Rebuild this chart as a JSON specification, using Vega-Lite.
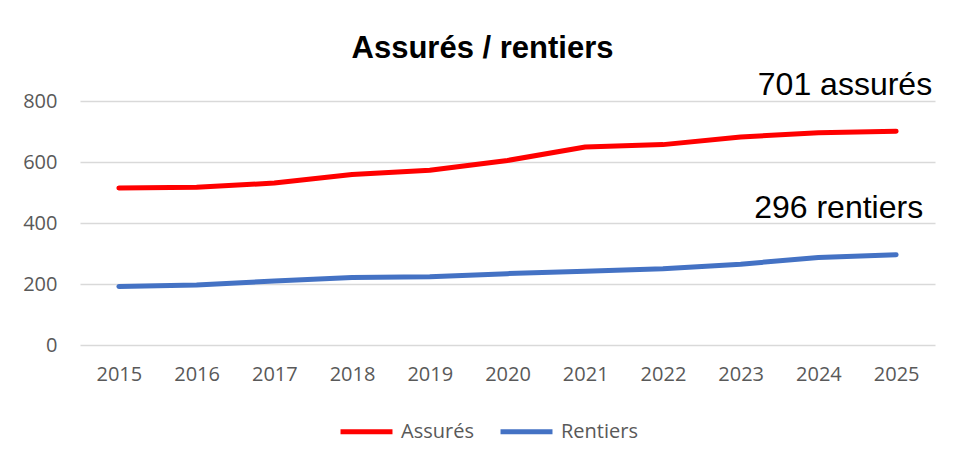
{
  "$schema": "https://vega.github.io/schema/vega-lite/v6.json",
  "autosize": "none",
  "width": 855,
  "height": 244,
  "padding": {"left": 80, "top": 101, "right": 25, "bottom": 121},
  "background": "white",
  "title": {
    "text": "Assurés / rentiers",
    "font": "Liberation Sans",
    "fontSize": 31,
    "fontWeight": "bold",
    "color": "#000000",
    "anchor": "middle",
    "frame": "group",
    "dx": -25,
    "offset": 4
  },
  "datasets": {
    "series": [
      {"year": "2015", "series": "Assurés", "value": 515},
      {"year": "2016", "series": "Assurés", "value": 517},
      {"year": "2017", "series": "Assurés", "value": 531},
      {"year": "2018", "series": "Assurés", "value": 559},
      {"year": "2019", "series": "Assurés", "value": 573},
      {"year": "2020", "series": "Assurés", "value": 605},
      {"year": "2021", "series": "Assurés", "value": 649},
      {"year": "2022", "series": "Assurés", "value": 657},
      {"year": "2023", "series": "Assurés", "value": 682},
      {"year": "2024", "series": "Assurés", "value": 696},
      {"year": "2025", "series": "Assurés", "value": 701},
      {"year": "2015", "series": "Rentiers", "value": 192},
      {"year": "2016", "series": "Rentiers", "value": 197},
      {"year": "2017", "series": "Rentiers", "value": 210},
      {"year": "2018", "series": "Rentiers", "value": 221},
      {"year": "2019", "series": "Rentiers", "value": 224},
      {"year": "2020", "series": "Rentiers", "value": 234},
      {"year": "2021", "series": "Rentiers", "value": 242},
      {"year": "2022", "series": "Rentiers", "value": 250},
      {"year": "2023", "series": "Rentiers", "value": 265},
      {"year": "2024", "series": "Rentiers", "value": 287},
      {"year": "2025", "series": "Rentiers", "value": 296}
    ],
    "notes": [
      {"year": "2025", "series": "Assurés", "value": 701, "label": "701 assurés"},
      {"year": "2025", "series": "Rentiers", "value": 296, "label": "296 rentiers"}
    ]
  },
  "encoding": {
    "x": {
      "field": "year",
      "type": "ordinal",
      "scale": {"type": "point", "padding": 0.5},
      "axis": {
        "title": null,
        "labelAngle": 0,
        "labelFont": "Open Sans",
        "labelFontSize": 20,
        "labelColor": "#595959",
        "labelPadding": 19,
        "ticks": false,
        "domain": false,
        "grid": false
      }
    },
    "y": {
      "field": "value",
      "type": "quantitative",
      "scale": {"domain": [0, 800]},
      "axis": {
        "title": null,
        "values": [0, 200, 400, 600, 800],
        "labelFont": "Open Sans",
        "labelFontSize": 20,
        "labelColor": "#595959",
        "labelPadding": 23,
        "ticks": false,
        "domain": false,
        "grid": true,
        "gridColor": "#d9d9d9",
        "gridWidth": 1.3
      }
    }
  },
  "layer": [
    {
      "data": {"name": "series"},
      "mark": {"type": "line", "strokeWidth": 5, "strokeCap": "round", "strokeJoin": "round"},
      "encoding": {
        "color": {
          "field": "series",
          "type": "nominal",
          "scale": {"domain": ["Assurés", "Rentiers"], "range": ["#ff0000", "#4472c4"]},
          "legend": {
            "title": null,
            "orient": "none",
            "direction": "horizontal",
            "legendX": 258,
            "legendY": 302,
            "symbolType": "stroke",
            "symbolSize": 2700,
            "symbolStrokeWidth": 5,
            "labelFont": "Open Sans",
            "labelFontSize": 20,
            "labelColor": "#595959",
            "labelOffset": 6,
            "columnPadding": 16
          }
        }
      }
    },
    {
      "data": {"name": "notes"},
      "transform": [{"filter": "datum.series === 'Assurés'"}],
      "mark": {"type": "text", "align": "right", "baseline": "alphabetic", "dx": 36, "dy": -36, "font": "Liberation Sans", "fontSize": 32, "color": "#000000"},
      "encoding": {"text": {"field": "label"}}
    },
    {
      "data": {"name": "notes"},
      "transform": [{"filter": "datum.series === 'Rentiers'"}],
      "mark": {"type": "text", "align": "right", "baseline": "alphabetic", "dx": 27, "dy": -37, "font": "Liberation Sans", "fontSize": 32, "color": "#000000"},
      "encoding": {"text": {"field": "label"}}
    }
  ],
  "config": {"view": {"stroke": null}}
}
